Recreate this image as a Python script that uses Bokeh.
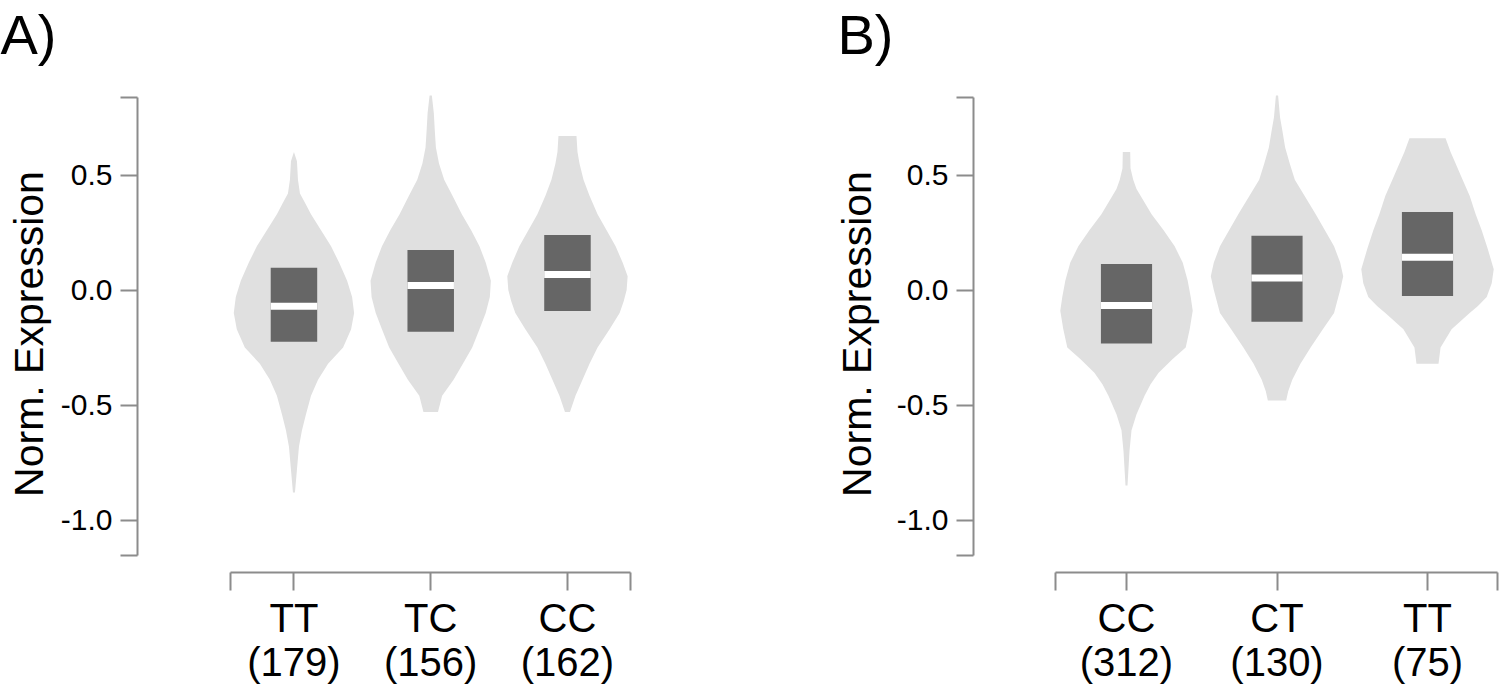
import numpy as np
from bokeh.plotting import figure
from bokeh.models import FixedTicker, CustomJSTickFormatter, Range1d, Title
from bokeh.layouts import row
from bokeh.embed import file_html
from bokeh.resources import INLINE

FONT = "Liberation Sans"

# ---------------- data ----------------
y_ticks = [-1.0, -0.5, 0.0, 0.5]

a_genotypes = ["TT", "TC", "CC"]
a_counts = [179, 156, 162]
a_q1 = [-0.225, -0.181, -0.091]
a_median = [-0.070, 0.020, 0.068]
a_q3 = [0.097, 0.174, 0.239]

b_genotypes = ["CC", "CT", "TT"]
b_counts = [312, 130, 75]
b_q1 = [-0.232, -0.138, -0.026]
b_median = [-0.067, 0.052, 0.143]
b_q3 = [0.113, 0.236, 0.340]

# violin outlines: expression level and relative density
a_tt_level = [0.60, 0.56, 0.48, 0.42, 0.38, 0.33, 0.26, 0.19, 0.12, 0.04, -0.03, -0.10, -0.17, -0.25, -0.32, -0.39, -0.46, -0.54, -0.61, -0.68, -0.78, -0.88]
a_tt_density = [0, 3, 4, 6, 11, 17, 27, 37, 45, 53, 58, 60, 57, 49, 34, 24, 17, 12, 8, 5, 3, 1]
a_tc_level = [0.85, 0.77, 0.69, 0.62, 0.55, 0.48, 0.41, 0.33, 0.26, 0.19, 0.12, 0.04, -0.03, -0.10, -0.17, -0.25, -0.32, -0.39, -0.46, -0.53]
a_tc_density = [1, 3, 4, 5, 8, 13, 21, 30, 39, 47, 53, 58, 57, 53, 47, 40, 31, 22, 11, 7]
a_cc_level = [0.67, 0.60, 0.55, 0.48, 0.41, 0.33, 0.26, 0.19, 0.12, 0.06, 0.00, -0.05, -0.10, -0.17, -0.25, -0.32, -0.39, -0.46, -0.53]
a_cc_density = [9, 10, 12, 16, 22, 30, 39, 48, 55, 60, 59, 56, 52, 42, 30, 22, 15, 8, 2.5]

b_cc_level = [0.60, 0.53, 0.48, 0.44, 0.41, 0.33, 0.26, 0.19, 0.12, 0.04, -0.03, -0.09, -0.17, -0.25, -0.30, -0.36, -0.41, -0.46, -0.54, -0.61, -0.70, -0.85]
b_cc_density = [3.7, 4, 6.7, 10, 14, 25, 37, 48, 56, 61, 64, 66, 63, 59, 46, 32, 24, 18, 10, 5, 3, 1]
b_ct_level = [0.85, 0.75, 0.70, 0.62, 0.55, 0.48, 0.41, 0.33, 0.26, 0.19, 0.12, 0.06, 0.00, -0.10, -0.17, -0.25, -0.32, -0.39, -0.44, -0.48]
b_ct_density = [1, 3, 5, 8, 12.5, 17.5, 27, 38, 47, 56, 62, 65, 62, 56, 45, 33, 23, 15, 11, 9]
b_tt_level = [0.66, 0.60, 0.55, 0.48, 0.41, 0.33, 0.26, 0.18, 0.09, 0.03, -0.03, -0.07, -0.10, -0.17, -0.25, -0.32]
b_tt_density = [18, 23, 28, 35, 42, 48, 54, 60, 66, 64, 59, 50, 42, 24, 13, 11]

VIOLIN = "#e0e0e0"
BOX = "#666666"
AXIS = "#8c8c8c"


def make_panel(letter, genotypes, counts, q1, med, q3, levels, densities,
               x_start, x_end, x_bounds, width, border_left, border_right,
               label_standoff, title_offset):
    p = figure(width=width, height=686,
               x_range=Range1d(x_start, x_end), y_range=Range1d(-1.228, 0.846),
               output_backend="svg", toolbar_location=None,
               min_border_left=border_left, min_border_right=border_right,
               min_border_top=95, min_border_bottom=0)
    p.grid.visible = False
    p.outline_line_color = None
    p.background_fill_color = "white"

    # panel letter as the (outermost) title, lifted by an empty spacer title
    p.title.text = letter
    p.title.text_font = FONT
    p.title.text_font_size = "56px"
    p.title.text_font_style = "normal"
    p.title.text_color = "black"
    p.title.align = "left"
    p.title.offset = title_offset
    p.title.standoff = 0
    p.add_layout(Title(text=" ", text_font_size="1px", standoff=27), "above")

    xs = list(range(1, len(genotypes) + 1))
    for xc, lv, d in zip(xs, levels, densities):
        lv = np.asarray(lv, dtype=float)
        d = np.asarray(d, dtype=float)
        half = d / d.max() * 0.44
        p.patch(np.concatenate([xc + half, (xc - half)[::-1]]),
                np.concatenate([lv, lv[::-1]]),
                fill_color=VIOLIN, line_color=None)

    p.vbar(x=xs, top=q3, bottom=q1, width=0.34, fill_color=BOX, line_color=None)
    p.rect(x=xs, y=med, width=0.34, height=7, height_units="screen",
           fill_color="white", line_color=None)

    yax = p.yaxis[0]
    yax.ticker = FixedTicker(ticks=[-1.154] + y_ticks + [0.837], minor_ticks=[])
    yax.bounds = (-1.155, 0.838)
    yax.formatter = CustomJSTickFormatter(
        code="return Math.abs(tick*2 - Math.round(tick*2)) < 1e-6 ? tick.toFixed(1) : '';")
    yax.axis_label = "Norm. Expression"

    xax = p.xaxis[0]
    xax.ticker = FixedTicker(ticks=[x_bounds[0] + 0.001] + xs + [x_bounds[1] - 0.001], minor_ticks=[])
    xax.bounds = x_bounds
    xax.formatter = CustomJSTickFormatter(args=dict(names=genotypes, counts=counts), code="""
        const r = Math.round(tick);
        const i = r - 1;
        if (Math.abs(tick - r) > 1e-6 || i < 0 || i >= names.length) return "";
        return names[i] + "\\n(" + counts[i] + ")";
    """)

    for ax in (xax, yax):
        ax.axis_line_color = AXIS
        ax.axis_line_width = 2
        ax.major_tick_line_color = AXIS
        ax.major_tick_line_width = 2
        ax.major_tick_in = 0
        ax.minor_tick_line_color = None
        ax.major_label_text_font = FONT
        ax.major_label_text_color = "black"
        ax.axis_label_text_font = FONT
        ax.axis_label_text_font_style = "normal"
        ax.axis_label_text_color = "black"

    yax.major_tick_out = 17
    yax.major_label_text_font_size = "30px"
    yax.major_label_standoff = 8
    yax.axis_label_text_font_size = "41px"
    yax.axis_label_standoff = label_standoff

    xax.major_tick_out = 18
    xax.major_label_text_font_size = "40px"
    xax.major_label_standoff = 5
    xax.major_label_text_line_height = 1.0
    return p


pa = make_panel("A)", a_genotypes, a_counts, a_q1, a_median, a_q3,
                [a_tt_level, a_tc_level, a_cc_level],
                [a_tt_density, a_tc_density, a_cc_density],
                x_start=-0.144, x_end=3.534, x_bounds=(0.536, 3.461),
                width=828, border_left=137, border_right=188,
                label_standoff=6, title_offset=-137)

pb = make_panel("B)", b_genotypes, b_counts, b_q1, b_median, b_q3,
                [b_cc_level, b_ct_level, b_tt_level],
                [b_cc_density, b_ct_density, b_tt_density],
                x_start=-0.0166, x_end=3.485, x_bounds=(0.528, 3.465),
                width=672, border_left=145, border_right=0,
                label_standoff=14, title_offset=-136)

layout = row(pa, pb)
open("out.html", "w").write(file_html(layout, INLINE))
